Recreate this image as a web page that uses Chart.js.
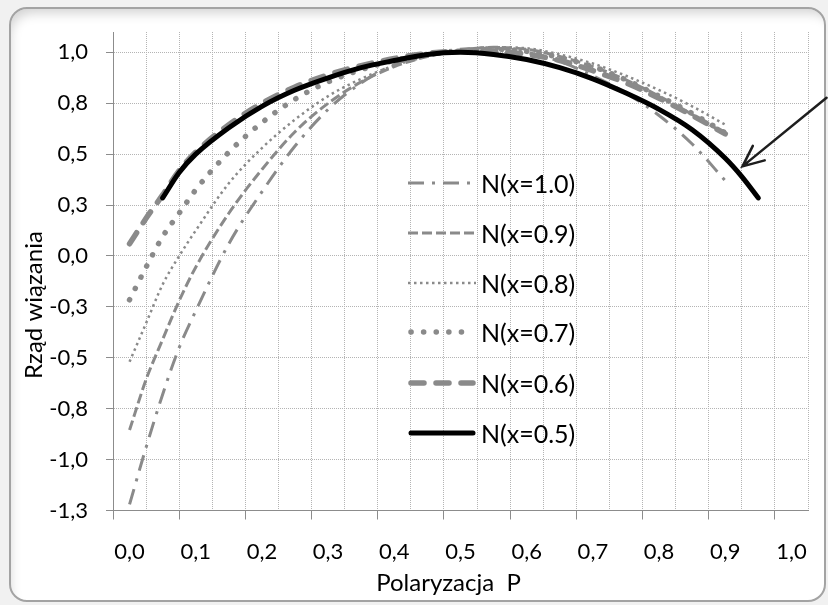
<!DOCTYPE html>
<html lang="pl">
<head>
<meta charset="utf-8">
<title>Rząd wiązania</title>
<script src="https://cdn.jsdelivr.net/npm/chart.js@4.4.1/dist/chart.umd.min.js"></script>
<style>
html, body { margin: 0; padding: 0; }
body { width: 828px; height: 605px; background: #f1f1f1; position: relative; overflow: hidden; font-family: Lato, sans-serif; }
#frame { position: absolute; left: 9px; top: 7px; width: 813px; height: 591px; border: 2px solid #a3a3a3; border-radius: 18px; background: #fff; box-shadow: inset 5px 10px 12px -6px rgba(0,0,0,0.18); }
#chart { position: absolute; left: 0; top: 0; }
#legend { position: absolute; left: 408px; top: 0; }
.item { position: absolute; left: 0; height: 30px; display: flex; align-items: center; white-space: nowrap; font-size: 25px; color: #000; }
.item svg { width: 68px; height: 12px; margin-right: 5px; }
</style>
</head>
<body>
<div id="frame"></div>
<canvas id="chart" width="828" height="605"></canvas>
<div id="legend"></div>
<script>
// polarization values (x) for the five grey series, and for the black one
var pGrid  = [0, 0.025, 0.05, 0.075, 0.1, 0.15, 0.2, 0.25, 0.3, 0.35, 0.4, 0.45, 0.5, 0.55, 0.6, 0.65, 0.7, 0.75, 0.8, 0.85, 0.9];
var pBlack = [0.05, 0.075, 0.1, 0.15, 0.2, 0.25, 0.3, 0.35, 0.4, 0.45, 0.5, 0.55, 0.6, 0.65, 0.7, 0.75, 0.8, 0.85, 0.9, 0.925, 0.95];

// bond order
var n10 = [-1.22, -0.94, -0.68, -0.45, -0.27, 0.06, 0.315, 0.54, 0.72, 0.85, 0.94, 0.99, 1.015, 1.02, 1.0, 0.955, 0.885, 0.80, 0.69, 0.55, 0.37];
var n09 = [-0.855, -0.607, -0.41, -0.22, -0.055, 0.21, 0.425, 0.61, 0.75, 0.855, 0.93, 0.98, 1.01, 1.025, 1.015, 0.98, 0.93, 0.865, 0.785, 0.695, 0.60];
var n08 = [-0.52, -0.33, -0.14, 0.0, 0.125, 0.357, 0.53, 0.67, 0.785, 0.87, 0.935, 0.98, 1.01, 1.025, 1.02, 0.99, 0.945, 0.885, 0.815, 0.735, 0.645];
var n07 = [-0.215, -0.055, 0.095, 0.21, 0.325, 0.51, 0.655, 0.77, 0.855, 0.915, 0.96, 0.99, 1.005, 1.015, 1.005, 0.975, 0.93, 0.865, 0.785, 0.70, 0.605];
var n06 = [0.06, 0.185, 0.30, 0.42, 0.51, 0.645, 0.75, 0.83, 0.89, 0.935, 0.97, 0.995, 1.005, 1.005, 0.99, 0.96, 0.91, 0.85, 0.775, 0.69, 0.60];
var n05 = [0.285, 0.41, 0.50, 0.63, 0.735, 0.815, 0.875, 0.925, 0.96, 0.99, 1.0, 0.99, 0.965, 0.925, 0.87, 0.80, 0.72, 0.62, 0.48, 0.39, 0.285];

var seriesLabels = ['N(x=1.0)', 'N(x=0.9)', 'N(x=0.8)', 'N(x=0.7)', 'N(x=0.6)', 'N(x=0.5)'];

var xTickValues = [0, 0.1, 0.2, 0.3, 0.4, 0.5, 0.6, 0.7, 0.8, 0.9, 1.0];
var xTickLabels = ['0,0', '0,1', '0,2', '0,3', '0,4', '0,5', '0,6', '0,7', '0,8', '0,9', '1,0'];
var yTickValues = [1.0, 0.75, 0.5, 0.25, 0, -0.25, -0.5, -0.75, -1.0, -1.25];
var yTickLabels = ['1,0', '0,8', '0,5', '0,3', '0,0', '-0,3', '-0,5', '-0,8', '-1,0', '-1,3'];

// arrow annotation, in data units
var arrowFrom = {x: 1.053, y: 0.777};
var arrowTo = {x: 0.926, y: 0.44};

var GREY = '#8a8a8a';
var AXIS = '#8c8c8c';

function pts(xs, ys) {
    return xs.map(function(x, i) { return {x: x, y: ys[i]}; });
}

var styles = [
    {color: GREY, width: 3, dash: [16, 8, 3, 8], cap: 'butt'},
    {color: GREY, width: 3, dash: [10, 4], cap: 'butt'},
    {color: GREY, width: 2.5, dash: [2.5, 3.5], cap: 'butt'},
    {color: GREY, width: 5.5, dash: [0.1, 12.5], cap: 'round'},
    {color: GREY, width: 5.5, dash: [13, 12], cap: 'round'},
    {color: '#000', width: 5, dash: [], cap: 'round'}
];
var values = [n10, n09, n08, n07, n06, n05];

var datasets = values.map(function(v, i) {
    return {
        label: seriesLabels[i],
        data: pts(i === 5 ? pBlack : pGrid, v),
        borderColor: styles[i].color,
        borderWidth: styles[i].width,
        borderDash: styles[i].dash,
        borderCapStyle: styles[i].cap,
        borderJoinStyle: 'round',
        pointRadius: 0,
        fill: false,
        cubicInterpolationMode: 'monotone',
        order: 5 - i,
        xAxisID: 'x',
        yAxisID: 'y'
    };
});

// minor vertical grid every 0.05, shifted like the original axis
var xGridValues = [];
for (let k = 0; k <= 21; k++) {
    xGridValues.push(Math.round((-0.025 + k * 0.05) * 1000) / 1000);
}

const arrowPlugin = {
    id: 'arrow',
    afterDraw(chart) {
        const ctx = chart.ctx;
        const sx = chart.scales.x, sy = chart.scales.y;
        const x1 = sx.getPixelForValue(arrowFrom.x), y1 = sy.getPixelForValue(arrowFrom.y);
        const x2 = sx.getPixelForValue(arrowTo.x), y2 = sy.getPixelForValue(arrowTo.y);
        const a = Math.atan2(y1 - y2, x1 - x2);
        ctx.save();
        ctx.strokeStyle = '#1e1e1e';
        ctx.lineWidth = 2.5;
        ctx.lineCap = 'round';
        ctx.beginPath();
        ctx.moveTo(x1, y1);
        ctx.lineTo(x2, y2);
        ctx.moveTo(x2 + 23 * Math.cos(a + 0.42), y2 + 23 * Math.sin(a + 0.42));
        ctx.lineTo(x2, y2);
        ctx.lineTo(x2 + 23 * Math.cos(a - 0.42), y2 + 23 * Math.sin(a - 0.42));
        ctx.stroke();
        ctx.restore();
    }
};

Chart.defaults.font.family = 'Lato';
Chart.defaults.font.size = 22;
Chart.defaults.color = '#000';

new Chart(document.getElementById('chart'), {
    type: 'line',
    data: {datasets: datasets},
    options: {
        responsive: false,
        animation: false,
        events: [],
        layout: {padding: {left: 16, right: 20, top: 32, bottom: 5.5}},
        plugins: {legend: {display: false}, tooltip: {enabled: false}},
        scales: {
            x: {
                type: 'linear', position: 'bottom', weight: 0,
                min: -0.025, max: 1.025,
                afterBuildTicks: function(axis) { axis.ticks = xGridValues.map(function(v) { return {value: v}; }); },
                afterFit: function(axis) { axis.height = 9; },
                ticks: {display: false},
                grid: {
                    color: '#b4b4b4', lineWidth: 1, tickLength: 9,
                    tickColor: function(c) { return (c.index % 2 === 0 && c.index < 21) ? AXIS : 'rgba(0,0,0,0)'; }
                },
                border: {display: true, color: AXIS, width: 1, dash: [1, 1]}
            },
            xl: {
                type: 'linear', position: 'bottom', weight: 1,
                min: -0.025, max: 1.025,
                afterBuildTicks: function(axis) { axis.ticks = xTickValues.map(function(v) { return {value: v}; }); },
                afterFit: function(axis) { axis.height = 80; },
                ticks: {
                    padding: 19, maxRotation: 0, autoSkip: false,
                    callback: function(v) { return xTickLabels[xTickValues.indexOf(v)]; }
                },
                grid: {display: false, drawTicks: false},
                border: {display: false},
                // trailing spaces nudge the title slightly left, as in the picture
                title: {display: true, text: 'Polaryzacja  P\u00a0\u00a0\u00a0\u00a0', font: {size: 24}, padding: {top: 4, bottom: 2}}
            },
            y: {
                type: 'linear', min: -1.25, max: 1.1,
                afterBuildTicks: function(axis) { axis.ticks = yTickValues.map(function(v) { return {value: v}; }); },
                afterFit: function(axis) { axis.width = 97; },
                ticks: {
                    padding: 18,
                    callback: function(v) { return yTickLabels[yTickValues.indexOf(v)]; }
                },
                grid: {color: '#b4b4b4', lineWidth: 1, tickLength: 7, tickColor: AXIS},
                border: {display: true, color: AXIS, width: 1, dash: [1, 1]},
                // trailing spaces move the rotated title a little lower, as in the picture
                title: {display: true, text: 'Rząd wiązania\u00a0\u00a0\u00a0\u00a0\u00a0\u00a0\u00a0\u00a0\u00a0\u00a0\u00a0', font: {size: 24}, padding: {top: 4, bottom: 4}}
            }
        }
    },
    plugins: [arrowPlugin]
});

// legend drawn as html, same order as the picture
var legendTops = [183, 233, 283, 332, 383, 433];
var legend = document.getElementById('legend');
datasets.forEach(function(ds, i) {
    var st = styles[i];
    var item = document.createElement('div');
    item.className = 'item';
    item.style.top = (legendTops[i] - 15) + 'px';
    var dash = st.dash.length ? st.dash.join(' ') : 'none';
    item.innerHTML = '<svg viewBox="0 0 68 12"><line x1="' + (st.cap === 'round' ? 3 : 0) + '" y1="6" x2="' + (st.cap === 'round' ? 65 : 68) +
        '" y2="6" stroke="' + st.color + '" stroke-width="' + st.width + '" stroke-dasharray="' + dash +
        '" stroke-linecap="' + st.cap + '"/></svg><span>' + ds.label + '</span>';
    legend.appendChild(item);
});
</script>
</body>
</html>
